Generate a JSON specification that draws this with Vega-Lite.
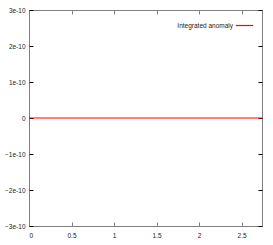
{
  "$schema": "https://vega.github.io/schema/vega-lite/v6.json",
  "width": 233,
  "height": 216,
  "autosize": {"type": "none"},
  "padding": {"left": 29, "top": 10, "right": 11, "bottom": 19},
  "background": "white",
  "config": {
    "view": {"stroke": "#808080", "strokeWidth": 1},
    "font": "Liberation Sans",
    "axis": {"grid": false, "domain": false, "offset": -4, "labelFont": "Liberation Sans", "labelFontSize": 6.5, "labelColor": "#222222", "tickColor": "#808080", "tickSize": 4, "title": null}
  },
  "data": {"values": [
    {"x": 0.0, "y": 0.0, "series": "Integrated anomaly"},
    {"x": 0.2, "y": 2e-14, "series": "Integrated anomaly"},
    {"x": 0.4, "y": -2e-14, "series": "Integrated anomaly"},
    {"x": 0.6, "y": 3e-14, "series": "Integrated anomaly"},
    {"x": 0.8, "y": -1e-14, "series": "Integrated anomaly"},
    {"x": 1.0, "y": 2e-14, "series": "Integrated anomaly"},
    {"x": 1.2, "y": -3e-14, "series": "Integrated anomaly"},
    {"x": 1.4, "y": 1e-14, "series": "Integrated anomaly"},
    {"x": 1.6, "y": -2e-14, "series": "Integrated anomaly"},
    {"x": 1.8, "y": 3e-14, "series": "Integrated anomaly"},
    {"x": 2.0, "y": -2e-14, "series": "Integrated anomaly"},
    {"x": 2.2, "y": 2e-14, "series": "Integrated anomaly"},
    {"x": 2.4, "y": -3e-14, "series": "Integrated anomaly"},
    {"x": 2.6, "y": 1e-14, "series": "Integrated anomaly"},
    {"x": 2.74, "y": 0.0, "series": "Integrated anomaly"}
  ]},
  "layer": [
    {
      "mark": {"type": "line", "strokeWidth": 1.2, "interpolate": "linear"},
      "encoding": {
        "x": {"field": "x", "type": "quantitative", "scale": {"domain": [0, 2.74], "nice": false, "zero": false},
              "axis": {"orient": "bottom", "values": [0, 0.5, 1, 1.5, 2, 2.5], "labelPadding": 6, "labelExpr": "format(datum.value, '')"}},
        "y": {"field": "y", "type": "quantitative", "scale": {"domain": [-3e-10, 3e-10], "nice": false, "zero": false},
              "axis": {"orient": "left", "values": [-3e-10, -2e-10, -1e-10, 0, 1e-10, 2e-10, 3e-10], "tickColor": "#000000", "labelPadding": 4, "labelExpr": "datum.value == 0 ? '0' : format(datum.value, '.0e')"}},
        "color": {"field": "series", "type": "nominal", "scale": {"range": ["#ff0000"]},
                  "legend": {"title": null, "orient": "top-right", "offset": 6, "symbolType": "M-1,0H1", "symbolStrokeWidth": 1.2, "symbolStrokeColor": "#ff5050", "symbolFillColor": "#ff5050", "symbolSize": 300, "symbolOpacity": 1, "labelAlign": "right", "labelOffset": -21, "labelFont": "Liberation Sans", "labelFontSize": 6.5, "labelColor": "#222222", "padding": 0,
                             "encode": {"symbols": {"enter": {"stroke": {"value": "#ff5050"}}, "update": {"stroke": {"value": "#ff5050"}, "strokeOpacity": {"value": 1}, "opacity": {"value": 1}}}}}}
      }
    },
    {
      "mark": {"type": "line", "strokeOpacity": 0},
      "encoding": {
        "x": {"field": "x", "type": "quantitative", "axis": {"orient": "top", "values": [0.5, 1, 1.5, 2, 2.5], "labels": false}},
        "y": {"field": "y", "type": "quantitative", "axis": {"orient": "right", "values": [-3e-10, -2e-10, -1e-10, 0, 1e-10, 2e-10, 3e-10], "labels": false, "tickColor": "#000000"}}
      }
    }
  ],
  "resolve": {"axis": {"x": "independent", "y": "independent"}}
}
